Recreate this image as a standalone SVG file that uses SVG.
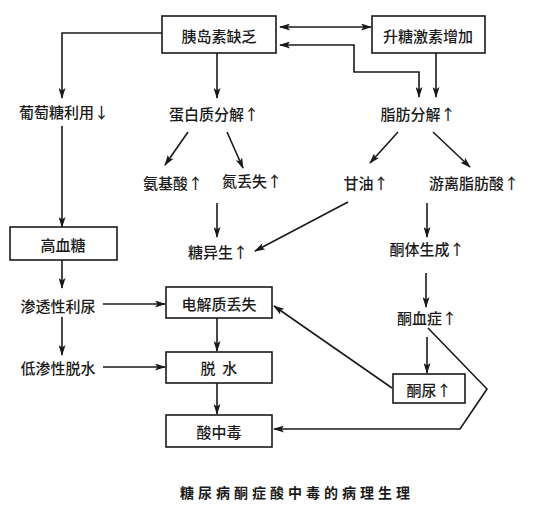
<svg xmlns="http://www.w3.org/2000/svg" width="535" height="513" viewBox="0 0 535 513">
<defs>
<marker id="ah" markerUnits="userSpaceOnUse" markerWidth="11" markerHeight="7" refX="10" refY="3.5" orient="auto-start-reverse">
<path d="M0,0 L11,3.5 L0,7 L2.5,3.5 z" fill="#1a1a1a"/>
</marker>
<style>
.bx{fill:#fff;stroke:#1a1a1a;stroke-width:1.6}
.t{font-family:"Noto Sans CJK SC","Noto Sans CJK JP",sans-serif;font-size:15px;fill:#1a1a1a;text-anchor:middle;dominant-baseline:central;font-weight:500}
.c{fill:none;stroke:#1a1a1a;stroke-width:1.6;marker-end:url(#ah)}
.cap{font-family:"Noto Sans CJK SC",sans-serif;font-size:14px;font-weight:bold;fill:#1a1a1a;text-anchor:middle;dominant-baseline:central;letter-spacing:4px}
</style>
</defs>
<rect width="535" height="513" fill="#fff"/>
<g id="connectors">
<polyline class="c" points="162,33 62,33 62,98"/>
<line class="c" x1="217" y1="53" x2="217" y2="98"/>
<line class="c" x1="280" y1="27" x2="371" y2="27" style="marker-start:url(#ah)"/>
<polyline class="c" points="280,45 354,45 354,72 419,72 419,97" style="marker-start:url(#ah)"/>
<line class="c" x1="436" y1="52" x2="436" y2="97"/>
<line class="c" x1="62" y1="126" x2="62" y2="227"/>
<line class="c" x1="188" y1="132" x2="165" y2="165"/>
<line class="c" x1="227" y1="132" x2="243" y2="168"/>
<line class="c" x1="217" y1="203" x2="217" y2="237"/>
<line class="c" x1="398" y1="132" x2="370" y2="163"/>
<line class="c" x1="433" y1="132" x2="470" y2="167"/>
<line class="c" x1="348" y1="202" x2="255" y2="251"/>
<line class="c" x1="427" y1="203" x2="427" y2="237"/>
<line class="c" x1="426" y1="273" x2="426" y2="307"/>
<line class="c" x1="427" y1="337" x2="427" y2="373"/>
<line class="c" x1="392" y1="388" x2="274" y2="306"/>
<polyline class="c" points="428,328 487,389 460,429 274,429"/>
<line class="c" x1="62" y1="260" x2="62" y2="288"/>
<line class="c" x1="103" y1="304" x2="165" y2="304"/>
<line class="c" x1="62" y1="317" x2="62" y2="355"/>
<line class="c" x1="103" y1="367" x2="165" y2="367"/>
<line class="c" x1="217" y1="318" x2="217" y2="351"/>
<line class="c" x1="217" y1="383" x2="217" y2="414"/>
</g>
<g id="n-insulin"><rect class="bx" x="162" y="16" width="114" height="37"/><text class="t" x="219" y="35">胰岛素缺乏</text></g>
<g id="n-hormone"><rect class="bx" x="372" y="16" width="113" height="37"/><text class="t" x="428" y="35">升糖激素增加</text></g>
<g id="n-glucose"><text class="t" x="64" y="111">葡萄糖利用↓</text></g>
<g id="n-protein"><text class="t" x="214" y="113">蛋白质分解↑</text></g>
<g id="n-fat"><text class="t" x="418" y="113">脂肪分解↑</text></g>
<g id="n-amino"><text class="t" x="173" y="182">氨基酸↑</text></g>
<g id="n-nitrogen"><text class="t" x="252" y="180">氮丢失↑</text></g>
<g id="n-glycerol"><text class="t" x="366" y="182">甘油↑</text></g>
<g id="n-ffa"><text class="t" x="474" y="182">游离脂肪酸↑</text></g>
<g id="n-gluconeo"><text class="t" x="218" y="251">糖异生↑</text></g>
<g id="n-ketogen"><text class="t" x="427" y="248">酮体生成↑</text></g>
<g id="n-hyperglycemia"><rect class="bx" x="10" y="227" width="107" height="33"/><text class="t" x="63" y="244">高血糖</text></g>
<g id="n-osmotic"><text class="t" x="58" y="305">渗透性利尿</text></g>
<g id="n-electrolyte"><rect class="bx" x="166" y="287" width="106" height="31"/><text class="t" x="219" y="303">电解质丢失</text></g>
<g id="n-ketonemia"><text class="t" x="427" y="317">酮血症↑</text></g>
<g id="n-hypotonic"><text class="t" x="58" y="367">低渗性脱水</text></g>
<g id="n-dehydration"><rect class="bx" x="166" y="352" width="106" height="31"/><text class="t" x="219" y="367" xml:space="preserve">脱  水</text></g>
<g id="n-ketonuria"><rect class="bx" x="393" y="374" width="72" height="29"/><text class="t" x="429" y="389">酮尿↑</text></g>
<g id="n-acidosis"><rect class="bx" x="166" y="415" width="106" height="32"/><text class="t" x="219" y="431">酸中毒</text></g>
<text class="cap" x="297" y="492">糖尿病酮症酸中毒的病理生理</text>
</svg>
